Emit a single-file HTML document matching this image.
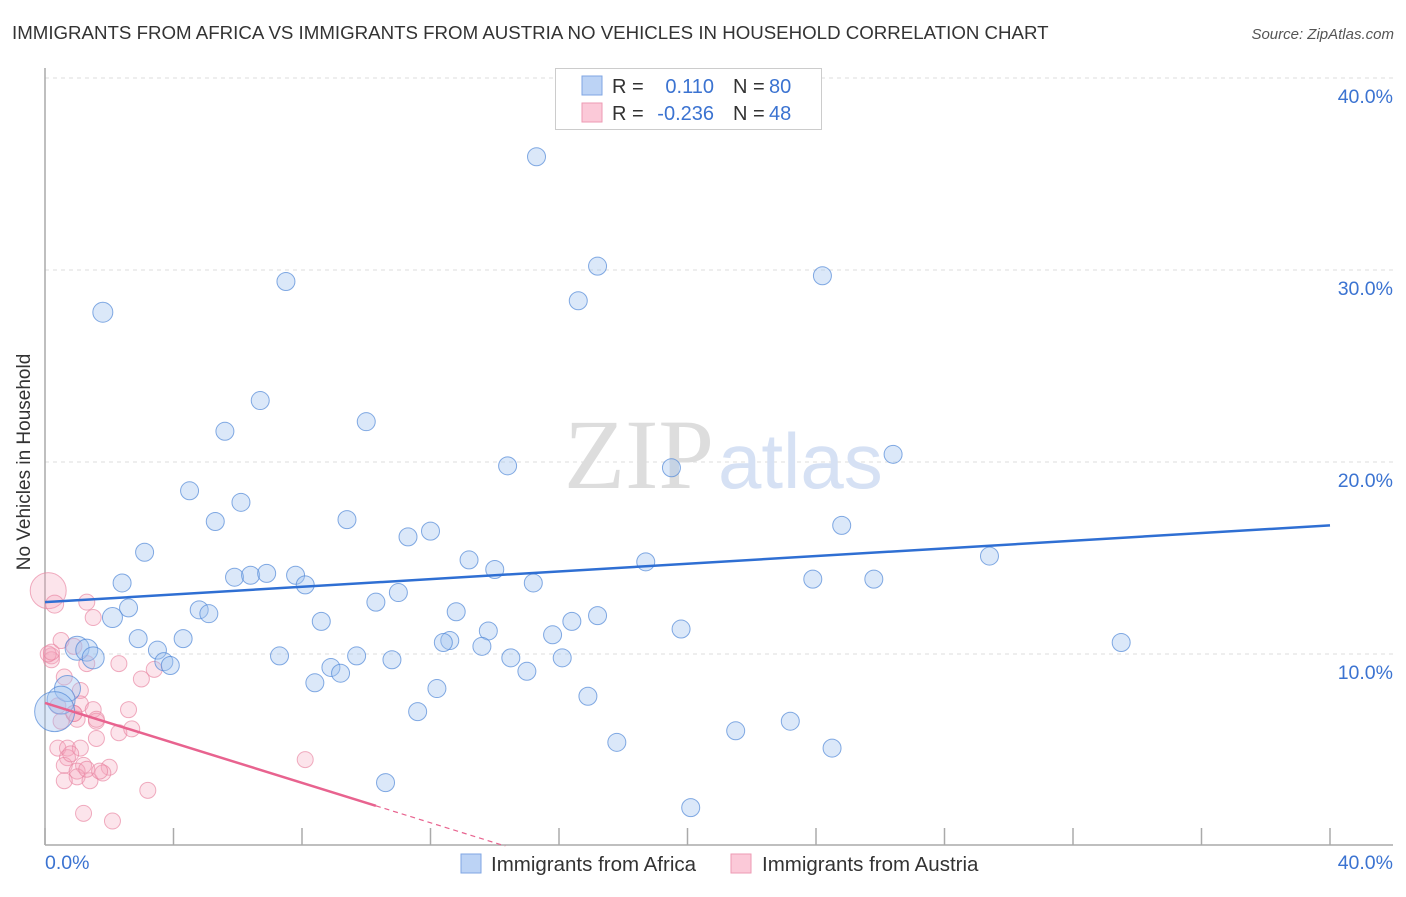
<!DOCTYPE html>
<html><head><meta charset="utf-8"><style>
body{margin:0;background:#fff;font-family:"Liberation Sans",sans-serif;}
svg text{font-family:"Liberation Sans",sans-serif;}
</style></head><body>
<svg id="chart" width="1406" height="892" xmlns="http://www.w3.org/2000/svg">
<text x="12" y="39" font-size="18.7" fill="#333">IMMIGRANTS FROM AFRICA VS IMMIGRANTS FROM AUSTRIA NO VEHICLES IN HOUSEHOLD CORRELATION CHART</text>
<text x="1394" y="39" font-size="15" fill="#555" font-style="italic" text-anchor="end">Source: ZipAtlas.com</text>
<g id="grid"></g>
<text x="714" y="488" font-size="100" fill="#ddd" text-anchor="end" style="font-family:'Liberation Serif',serif">ZIP</text>
<text x="718" y="488" font-size="78" fill="#d6e1f4">atlas</text>
<line x1="45" y1="68" x2="45" y2="845" stroke="#aaa" stroke-width="1.5"/>
<line x1="45" y1="845" x2="1393" y2="845" stroke="#aaa" stroke-width="1.5"/>
<g id="ticks"></g>
<g id="pts"></g>
<g id="trends"></g>
<text x="24" y="456" font-size="19" fill="#333" text-anchor="middle" transform="rotate(-90 30 456)">No Vehicles in Household</text>
<text x="45" y="869" font-size="19.5" fill="#3b73d1">0.0%</text>
<text x="1393" y="869" font-size="19.5" fill="#3b73d1" text-anchor="end">40.0%</text>
<g>
<rect x="555.5" y="68.5" width="266" height="61" fill="#fff" stroke="#ccc"/>
<rect x="582" y="76" width="20" height="19" fill="#bcd3f5" stroke="#7fa6e3"/>
<rect x="582" y="103" width="20" height="19" fill="#fbc9d8" stroke="#ee9ab3"/>
<text x="612" y="93" font-size="20" fill="#333">R =</text><text x="714" y="93" font-size="20" fill="#3b73d1" text-anchor="end">0.110</text>
<text x="733" y="93" font-size="20" fill="#333">N =</text><text x="769" y="93" font-size="20" fill="#3b73d1">80</text>
<text x="612" y="120" font-size="20" fill="#333">R =</text><text x="714" y="120" font-size="20" fill="#3b73d1" text-anchor="end">-0.236</text>
<text x="733" y="120" font-size="20" fill="#333">N =</text><text x="769" y="120" font-size="20" fill="#3b73d1">48</text>
</g>
<g>
<rect x="461" y="854" width="20" height="19" fill="#bcd3f5" stroke="#7fa6e3"/>
<text x="491" y="871" font-size="20.5" fill="#333">Immigrants from Africa</text>
<rect x="731" y="854" width="20" height="19" fill="#fbc9d8" stroke="#ee9ab3"/>
<text x="762" y="871" font-size="20.5" fill="#333">Immigrants from Austria</text>
</g>
</svg>
<script>
const yTicks=[10,20,30,40];
const yTickLabels=["10.0%","20.0%","30.0%","40.0%"];
const blueX=[15.3,17.2,16.6,24.2,7.5,1.8,6.7,10.0,5.6,14.4,19.5,26.4,4.5,6.1,5.3,9.4,24.8,12.0,11.3,3.1,13.2,18.7,29.4,14.0,2.4,5.9,6.4,6.9,7.8,8.1,15.2,23.9,25.8,11.0,10.3,2.6,2.1,4.8,5.1,12.8,17.2,16.4,8.6,13.8,19.8,2.9,4.3,15.8,12.6,12.4,33.5,13.6,1.0,1.3,3.5,1.5,7.3,9.7,3.7,3.9,10.8,14.5,16.1,8.9,9.2,15.0,8.4,0.7,12.2,16.9,0.5,0.3,11.6,23.2,21.5,17.8,24.5,10.6,20.1];
const blueY=[35.9,30.2,28.4,29.7,29.4,27.8,23.2,22.1,21.6,19.8,19.7,20.4,18.5,17.9,16.9,17.0,16.7,16.4,16.1,15.3,14.9,14.8,15.1,14.4,13.7,14.0,14.1,14.2,14.1,13.6,13.7,13.9,13.9,13.2,12.7,12.4,11.9,12.3,12.1,12.2,12.0,11.7,11.7,11.2,11.3,10.8,10.8,11.0,10.7,10.6,10.6,10.4,10.3,10.2,10.2,9.8,9.9,9.9,9.6,9.4,9.7,9.8,9.8,9.3,9.0,9.1,8.5,8.2,8.2,7.8,7.6,7.0,7.0,6.5,6.0,5.4,5.1,3.3,2.0];
const blueR=[9,9,9,9,9,10,9,9,9,9,9,9,9,9,9,9,9,9,9,9,9,9,9,9,9,9,9,9,9,9,9,9,9,9,9,9,10,9,9,9,9,9,9,9,9,9,9,9,9,9,9,9,12,11,9,11,9,9,9,9,9,9,9,9,9,9,9,13,9,9,14,20,9,9,9,9,9,9,9];
const pinkX=[0.1,0.3,1.3,1.5,0.5,0.2,0.2,0.1,0.2,0.9,1.3,2.3,3.4,3.0,0.6,1.1,1.1,1.5,2.6,0.9,1.0,0.5,1.6,2.3,1.6,2.7,0.4,0.7,1.1,0.7,0.6,1.2,1.0,2.0,1.0,0.6,1.4,1.8,8.1,3.2,1.2,2.1,0.8,1.3,0.4,1.6,1.7,0.9];
const pinkY=[13.3,12.6,12.7,11.9,10.7,9.9,9.7,10.0,10.1,10.4,9.5,9.5,9.2,8.7,8.8,8.1,7.4,7.1,7.1,6.9,6.6,6.5,6.5,5.9,5.6,6.1,5.1,5.1,5.1,4.6,4.2,4.2,3.9,4.1,3.6,3.4,3.4,3.8,4.5,2.9,1.7,1.3,4.8,4.0,7.3,6.6,3.9,6.9];
const pinkR=[18,9,8,8,8,8,8,8,8,8,8,8,8,8,8,8,8,8,8,8,8,8,8,8,8,8,8,8,8,8,8,8,8,8,8,8,8,8,8,8,8,8,8,8,8,8,8,8];
const blueTrend=[12.7,16.7];
const pinkTrend=[7.45,-0.52];
const NS="http://www.w3.org/2000/svg";
const X=v=>45+v/40*1285, Y=v=>846-v*19.2;
function mk(t,a,p){const e=document.createElementNS(NS,t);for(const k in a)e.setAttribute(k,a[k]);p.appendChild(e);return e;}
const grid=document.getElementById('grid');
yTicks.forEach((t,i)=>{
 const l=mk('line',{x1:45,x2:1393,y1:Y(t),y2:Y(t),stroke:'#ddd','stroke-dasharray':'4 4'},grid);
 
 
 const tx=mk('text',{x:1393,y:Y(t)+25,'font-size':19.5,fill:'#3b73d1','text-anchor':'end'},grid);
 tx.textContent=yTickLabels[i];
 
 
});
const tk=document.getElementById('ticks');
for(let i=0;i<=10;i++){
 const l=mk('line',{x1:X(i*4),x2:X(i*4),y1:828,y2:845,stroke:'#aaa','stroke-width':1.5},tk);
 
 
}
const pts=document.getElementById('pts');
pinkX.forEach((x,i)=>{
 const c=mk('circle',{cx:X(x),cy:Y(pinkY[i]),r:pinkR[i],fill:'rgba(245,165,190,0.3)',stroke:'rgba(232,130,160,0.65)','stroke-width':1},pts);
 
 
});
blueX.forEach((x,i)=>{
 const c=mk('circle',{cx:X(x),cy:Y(blueY[i]),r:blueR[i],fill:'rgba(160,195,240,0.38)',stroke:'rgba(80,135,215,0.7)','stroke-width':1},pts);
 
 
});
const tr=document.getElementById('trends');
const bl=mk('line',{x1:X(0),y1:Y(blueTrend[0]),x2:X(40),y2:Y(blueTrend[1]),stroke:'#2f6fd3','stroke-width':2.5},tr);


const pf=v=>pinkTrend[0]+pinkTrend[1]*v;
const xe=10.3, x0=-pinkTrend[0]/pinkTrend[1];
const pl=mk('line',{x1:X(0),y1:Y(pf(0)),x2:X(xe),y2:Y(pf(xe)),stroke:'#e8638f','stroke-width':2.5},tr);


const pd=mk('line',{x1:X(xe),y1:Y(pf(xe)),x2:X(x0),y2:Y(0),stroke:'#e8638f','stroke-width':1.2,'stroke-dasharray':'5 4'},tr);


</script>
</body></html>
